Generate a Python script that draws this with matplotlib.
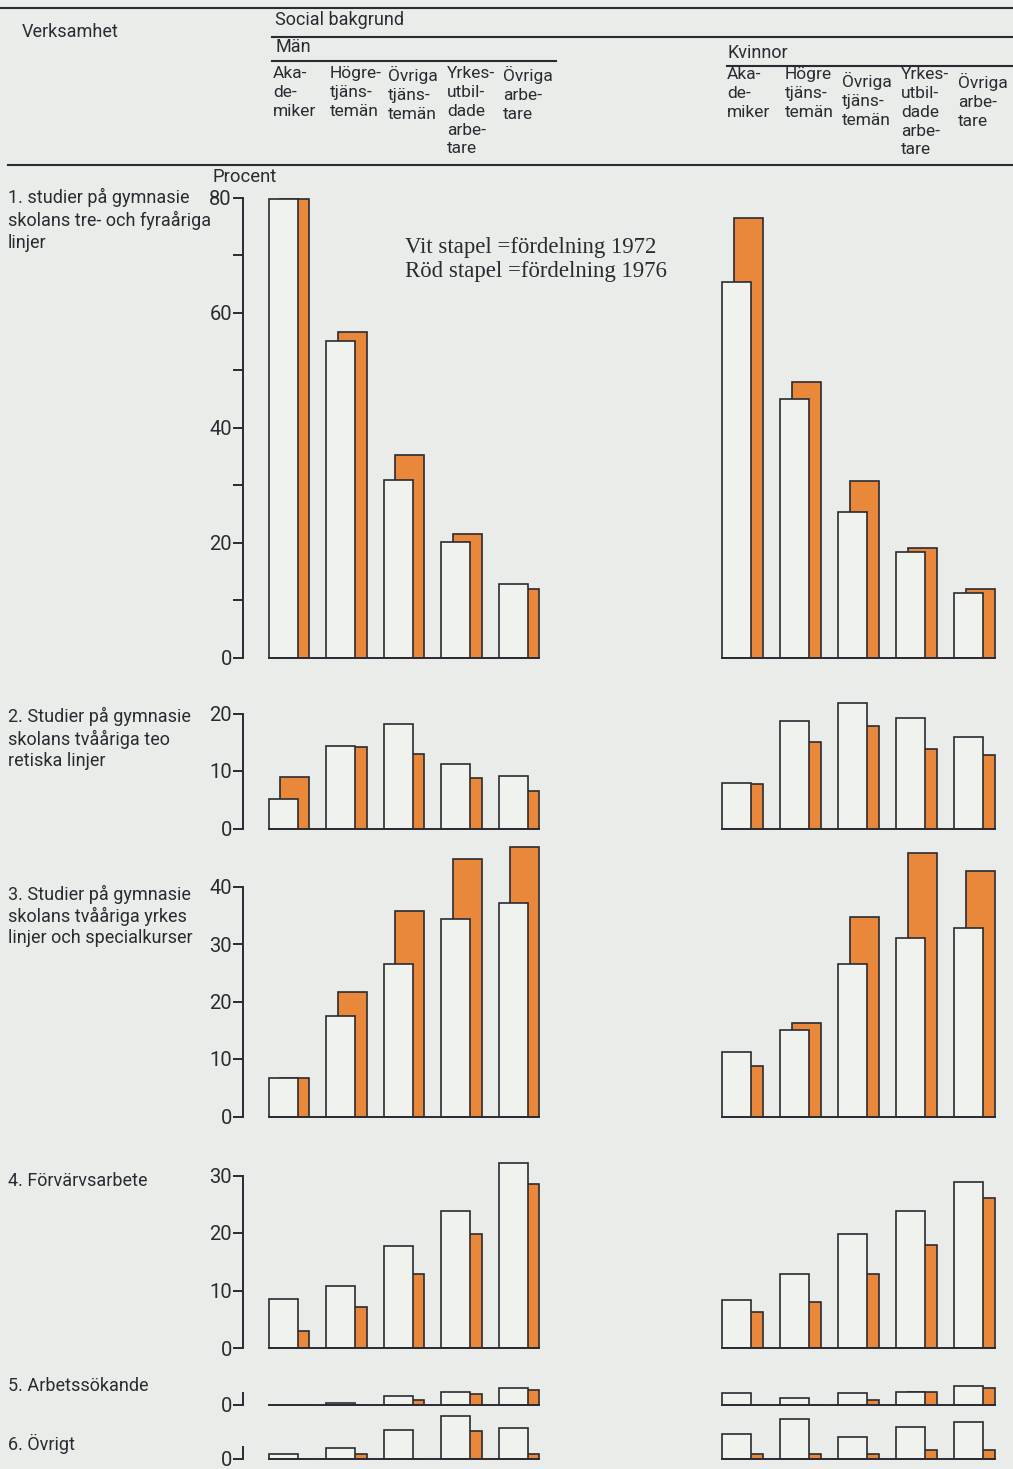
import matplotlib
matplotlib.use('Agg')
import matplotlib.pyplot as plt
from matplotlib.lines import Line2D

W, H = 1013, 1469
BG = '#e9ece8'
ORANGE = '#e9883a'
INK = '#2b2a33'
SANS = ['Liberation Sans Narrow', 'Roboto', 'DejaVu Sans']
SERIF = ['Liberation Serif', 'DejaVu Serif']

# data (procent)
row_labels = [
    ["1. studier på gymnasie", "skolans tre- och fyraåriga", "linjer"],
    ["2. Studier på gymnasie", "skolans tvååriga teo", "retiska linjer"],
    ["3. Studier på gymnasie", "skolans tvååriga yrkes", "linjer och specialkurser"],
    ["4. Förvärvsarbete"],
    ["5. Arbetssökande"],
    ["6. Övrigt"],
]
groups_man = ["Aka-\nde-\nmiker", "Högre-\ntjäns-\ntemän", "Övriga\ntjäns-\ntemän",
              "Yrkes-\nutbil-\ndade\narbe-\ntare", "Övriga\narbe-\ntare"]
groups_kv = ["Aka-\nde-\nmiker", "Högre\ntjäns-\ntemän", "Övriga\ntjäns-\ntemän",
             "Yrkes-\nutbil-\ndade\narbe-\ntare", "Övriga\narbe-\ntare"]

man_1972 = [
    [79.8, 55.0, 30.9, 20.1, 12.8],
    [5.2, 14.3, 18.1, 11.3, 9.1],
    [6.7, 17.4, 26.6, 34.3, 37.1],
    [8.5, 10.7, 17.7, 23.8, 32.1],
    [0.0, 0.3, 1.5, 2.2, 2.8],
    [0.8, 1.9, 5.0, 7.4, 5.3],
]
man_1976 = [
    [79.8, 56.6, 35.2, 21.4, 12.0],
    [8.9, 14.2, 12.9, 8.7, 6.6],
    [6.7, 21.7, 35.8, 44.7, 46.8],
    [2.9, 7.1, 12.8, 19.9, 28.6],
    [0.0, 0.0, 0.8, 1.8, 2.6],
    [0.0, 0.8, 0.0, 4.8, 0.8],
]
kv_1972 = [
    [65.3, 45.0, 25.3, 18.4, 11.3],
    [7.9, 18.7, 21.8, 19.2, 16.0],
    [11.2, 15.0, 26.5, 31.0, 32.7],
    [8.4, 12.9, 19.9, 23.9, 28.9],
    [2.0, 1.1, 2.0, 2.1, 3.3],
    [4.3, 6.9, 3.7, 5.5, 6.4],
]
kv_1976 = [
    [76.4, 47.9, 30.7, 19.1, 12.0],
    [7.8, 15.0, 17.8, 13.9, 12.8],
    [8.7, 16.2, 34.7, 45.9, 42.7],
    [6.2, 8.0, 12.9, 18.0, 26.1],
    [0.0, 0.0, 0.8, 2.1, 2.8],
    [0.7, 0.8, 0.8, 1.5, 1.4],
]

# per-row axis layout: baseline (px), y-limit, major ticks, minor ticks, spine top
rows = [
    dict(base=657.5, ymax=82, ticks=[0, 20, 40, 60, 80], minor=[10, 30, 50, 70], top=80),
    dict(base=828.5, ymax=23, ticks=[0, 10, 20], minor=[], top=20),
    dict(base=1116.5, ymax=49, ticks=[0, 10, 20, 30, 40], minor=[], top=40),
    dict(base=1348.0, ymax=33, ticks=[0, 10, 20, 30], minor=[], top=30),
    dict(base=1404.5, ymax=4, ticks=[0], minor=[], top=2),
    dict(base=1458.5, ymax=8, ticks=[0], minor=[], top=2),
]
label_y = [[197, 220, 243], [716, 739, 761], [894, 916, 938], [1181], [1386], [1444]]

PX_PER_UNIT = 5.75
BAR_W = 0.5
SHIFT = 0.2
XMIN, XMAX = -0.452, 4.75

fig = plt.figure(figsize=(W / 100, H / 100), dpi=100, facecolor=BG)


def add_px_axes(left, base, step, ymax):
    height = ymax * PX_PER_UNIT
    width = (XMAX - XMIN) * step
    return fig.add_axes([left / W, 1 - base / H, width / W, height / H])


def draw_group(ax, v72, v76, row, with_axis):
    x = list(range(len(v72)))
    ax.bar([i + SHIFT for i in x], v76, width=BAR_W, align='edge', color=ORANGE,
           edgecolor=INK, linewidth=1.2, zorder=1)
    ax.bar(x, v72, width=BAR_W, align='edge', color='#f0f2ee',
           edgecolor=INK, linewidth=1.2, zorder=2)
    ax.set_xlim(XMIN, XMAX)
    ax.set_ylim(0, row['ymax'])
    ax.patch.set_visible(False)
    for s in ['top', 'right']:
        ax.spines[s].set_visible(False)
    ax.spines['bottom'].set_bounds(0, SHIFT + 4 + BAR_W)
    ax.spines['bottom'].set_color(INK)
    ax.spines['bottom'].set_linewidth(1.4)
    ax.set_xticks([])
    if with_axis:
        ax.spines['left'].set_bounds(0, row['top'])
        ax.spines['left'].set_color(INK)
        ax.spines['left'].set_linewidth(1.4)
        ax.set_yticks(row['ticks'])
        ax.set_yticks(row['minor'], minor=True)
        ax.tick_params(axis='y', which='both', length=7, width=1.4, color=INK,
                       labelsize=14.5, labelcolor=INK, pad=1)
        for t in ax.get_yticklabels():
            t.set_family(SANS)
    else:
        ax.spines['left'].set_visible(False)
        ax.set_yticks([])


for r, row in enumerate(rows):
    ax_m = add_px_axes(243, row['base'], 57.5, row['ymax'])
    draw_group(ax_m, man_1972[r], man_1976[r], row, True)
    ax_k = add_px_axes(722 - 0.452 * 58, row['base'], 58, row['ymax'])
    draw_group(ax_k, kv_1972[r], kv_1976[r], row, False)
    for line, y in zip(row_labels[r], label_y[r]):
        fig.text(8 / W, 1 - y / H, line, fontsize=13, color=INK, family=SANS,
                 ha='left', va='center')


def ftext(x, y, s, **kw):
    kw.setdefault('color', INK)
    kw.setdefault('family', SANS)
    kw.setdefault('fontsize', 12.5)
    fig.text(x / W, 1 - y / H, s, **kw)


def hline(x0, x1, y, lw=1.5):
    fig.add_artist(Line2D([x0 / W, x1 / W], [1 - y / H, 1 - y / H], color=INK, lw=lw))


# header table
hline(0, 1013, 8)
hline(272, 1013, 37)
hline(272, 556, 61)
hline(727, 1013, 66)
hline(8, 1013, 165)
ftext(22, 32, "Verksamhet", va='center', fontsize=13)
ftext(275, 20, "Social bakgrund", va='center', fontsize=13)
ftext(275, 47, "Män", va='center', fontsize=13)
ftext(727, 53, "Kvinnor", va='center', fontsize=13)
man_cols = [273, 330, 388, 447, 503]
kv_cols = [727, 785, 842, 901, 958]
kv_dy = [0, 0, 5, 0, 6]
for x, s in zip(man_cols, groups_man):
    ftext(x, 66, s, va='top', linespacing=1.32)
for x, s, dy in zip(kv_cols, groups_kv, kv_dy):
    ftext(x, 67 + dy, s, va='top', linespacing=1.32)

ftext(245, 177, "Procent", ha='center', va='center', fontsize=13.3)

# legend text
ftext(405, 247, "Vit stapel =fördelning 1972", family=SERIF, fontsize=16.4, va='center')
ftext(405, 272, "Röd stapel =fördelning 1976", family=SERIF, fontsize=16.4, va='center')

fig.savefig('out.png', dpi=100, facecolor=BG)
